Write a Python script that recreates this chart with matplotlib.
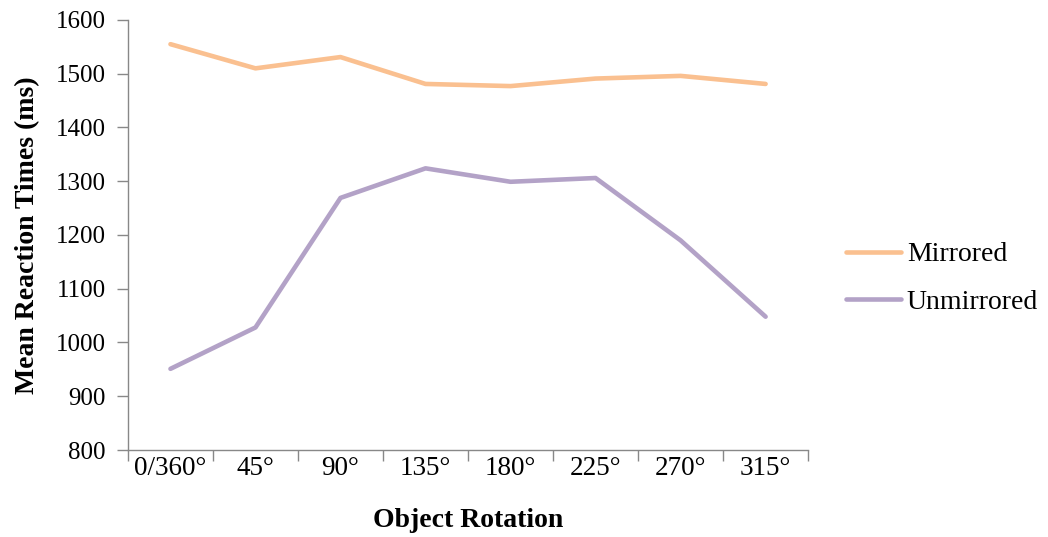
import numpy as np
import matplotlib.pyplot as plt

rotacoes = ['0/360°', '45°', '90°', '135°', '180°', '225°', '270°', '315°']
espelhado = [1555, 1510, 1531, 1481, 1477, 1491, 1496, 1481]
nao_espelhado = [951, 1028, 1269, 1324, 1299, 1306, 1190, 1048]

plt.rcParams['font.family'] = ['Liberation Serif', 'DejaVu Serif']

fig = plt.figure(figsize=(10.48, 5.37), dpi=100)
ax = fig.add_axes([0.1221, 0.162, 0.649, 0.8008])

x = np.arange(len(rotacoes))
ax.plot(x, espelhado, color='#FAC090', linewidth=3.3, label='Mirrored', solid_capstyle='round')
ax.plot(x, nao_espelhado, color='#B3A2C7', linewidth=3.3, label='Unmirrored', solid_capstyle='round')

ax.set_xlim(-0.5, len(rotacoes) - 0.5)
ax.set_ylim(800, 1600)
ax.set_yticks(np.arange(800, 1601, 100))
ax.set_xticks(x)
ax.set_xticklabels(rotacoes)
ax.set_xticks(np.arange(-0.5, len(rotacoes)), minor=True)
ax.tick_params(axis='x', which='major', length=0, pad=4, labelsize=19.5)
ax.tick_params(axis='x', which='minor', length=8, color='#888888', width=1)
ax.tick_params(axis='y', length=8, color='#888888', width=1, labelsize=18, pad=8)

for lado in ['top', 'right']:
    ax.spines[lado].set_visible(False)
for lado in ['left', 'bottom']:
    ax.spines[lado].set_color('#888888')
    ax.spines[lado].set_linewidth(1)

ax.set_xlabel('Object Rotation', fontsize=20, fontweight='bold', labelpad=20)
ax.set_ylabel('Mean Reaction Times (ms)', fontsize=20, fontweight='bold', labelpad=11)

ax.legend(loc='center left', bbox_to_anchor=(0.807, 0.4814), bbox_transform=fig.transFigure,
          frameon=False, fontsize=20, handlelength=2.0, handletextpad=0.2, labelspacing=0.8,
          borderpad=0, borderaxespad=0)

plt.savefig('out.png', dpi=100)
